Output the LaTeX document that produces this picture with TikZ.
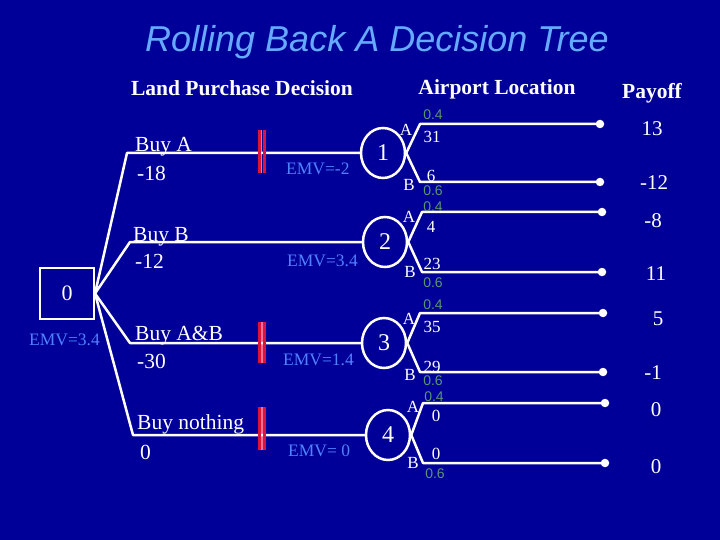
\documentclass[tikz,border=0pt]{standalone}
\usepackage{fontspec}
\usetikzlibrary{shapes.geometric}
\setmainfont{Liberation Serif}
\newfontfamily\arialf{Liberation Sans}
\definecolor{bg}{RGB}{0,0,153}
\definecolor{ttl}{RGB}{102,170,255}
\definecolor{emv}{RGB}{80,130,255}
\definecolor{prob}{RGB}{90,150,110}
\definecolor{barred}{RGB}{220,20,60}
\definecolor{barpink}{RGB}{245,110,150}
\begin{document}
\begin{tikzpicture}[x=1pt,y=-1pt,
  wline/.style={draw=white, line width=2.5pt, line join=round},
  lbl/.style={text=white, font=\fontsize{21.5}{24}\selectfont, inner sep=0, anchor=base west},
  hdr/.style={text=white, font=\bfseries\fontsize{21.5}{24}\selectfont, inner sep=0},
  emvl/.style={text=emv, font=\fontsize{17.5}{20}\selectfont, inner sep=0, anchor=base west},
  prb/.style={text=prob, font=\arialf\fontsize{14}{16}\selectfont, inner sep=0},
  ab/.style={text=white, font=\fontsize{17}{19}\selectfont, inner sep=0},
  pay/.style={text=white, font=\fontsize{21}{24}\selectfont, inner sep=0},
  chance/.style={ellipse, draw=white, line width=2.5pt, minimum width=44pt, minimum height=50pt, inner sep=0, text=white, font=\fontsize{24}{26}\selectfont},
  decision/.style={rectangle, draw=white, line width=2pt, minimum width=54pt, minimum height=51pt, inner sep=0, text=white, font=\fontsize{22}{24}\selectfont},
  tdot/.style={circle, fill=white, minimum size=8.5pt, inner sep=0},
  rbar/.style={draw=barred, line width=3pt},
  pbar/.style={draw=barpink, line width=1.5pt}
]
\fill[bg] (0,0) rectangle (720,540);
\useasboundingbox (0,0) rectangle (720,540);

% title and headers
\node[text=ttl, font=\arialf\itshape\fontsize{36}{40}\selectfont, inner sep=0] (title) at (377,42) {Rolling Back A Decision Tree};
\node[hdr] (h1) at (242,88) {Land Purchase Decision};
\node[hdr] (h2) at (497,89) {Airport Location};
\node[hdr] (h3) at (652,93) {Payoff};

% pink gaps of the bars (under the lines)
\draw[pbar] (261.6,130) -- (261.6,173);
\draw[pbar] (261.8,322) -- (261.8,363);
\draw[pbar] (261.8,407) -- (261.8,450);

% decision node
\node[decision] (d0) at (67,293.5) {0};
\node[emvl] (emv0) at (29,345) {EMV=3.4};

% chance nodes
\node[chance] (c1) at (383,153) {1};
\node[chance] (c2) at (385,242) {2};
\node[chance] (c3) at (384,343) {3};
\node[chance] (c4) at (388,435) {4};

% decision branch corners
\coordinate (ka) at (127,153);
\coordinate (kb) at (130,242);
\coordinate (kab) at (130,343);
\coordinate (kn) at (133,435);

\draw[wline] (d0.east) -- (ka) -- (c1.west);
\draw[wline] (d0.east) -- (kb) -- (c2.west);
\draw[wline] (d0.east) -- (kab) -- (c3.west);
\draw[wline] (d0.east) -- (kn) -- (c4.west);

% red bars
\draw[rbar] (259,130) -- (259,173);
\draw[rbar] (264.2,130) -- (264.2,173);
\draw[rbar] (259.2,322) -- (259.2,363);
\draw[rbar] (264.4,322) -- (264.4,363);
\draw[rbar] (259.2,407) -- (259.2,450);
\draw[rbar] (264.4,407) -- (264.4,450);

% decision branch labels
\node[lbl] (la) at (135,152) {Buy A};
\node[lbl] (va) at (137,181) {-18};
\node[lbl] (lb) at (133,241) {Buy B};
\node[lbl] (vb) at (135,268) {-12};
\node[lbl] (lab) at (135,340) {Buy A\&B};
\node[lbl] (vab) at (137,368) {-30};
\node[lbl] (ln) at (137,429) {Buy nothing};
\node[lbl] (vn) at (140,459) {0};

\node[emvl] (e1) at (286,175) {EMV=-2};
\node[emvl] (e2) at (287,266) {EMV=3.4};
\node[emvl] (e3) at (283,365) {EMV=1.4};
\node[emvl] (e4) at (288,456) {EMV= 0};

% chance branches: corners and terminal dots
\coordinate (u1) at (420,124); \node[tdot] (t1) at (600,124) {};
\coordinate (w1) at (420,182); \node[tdot] (t2) at (600,182) {};
\coordinate (u2) at (422,212); \node[tdot] (t3) at (602,212) {};
\coordinate (w2) at (422,272); \node[tdot] (t4) at (602,272) {};
\coordinate (u3) at (420,313); \node[tdot] (t5) at (603,313) {};
\coordinate (w3) at (420,372); \node[tdot] (t6) at (603,372) {};
\coordinate (u4) at (423,403); \node[tdot] (t7) at (605,403) {};
\coordinate (w4) at (423,463); \node[tdot] (t8) at (605,463) {};

\draw[wline] (c1.east) -- (u1) -- (t1.center);
\draw[wline] (c1.east) -- (w1) -- (t2.center);
\draw[wline] (c2.east) -- (u2) -- (t3.center);
\draw[wline] (c2.east) -- (w2) -- (t4.center);
\draw[wline] (c3.east) -- (u3) -- (t5.center);
\draw[wline] (c3.east) -- (w3) -- (t6.center);
\draw[wline] (c4.east) -- (u4) -- (t7.center);
\draw[wline] (c4.east) -- (w4) -- (t8.center);

% chance labels node 1
\node[prb] (p1a) at (433,115) {0.4};
\node[ab] (a1) at (406,130) {A};
\node[ab] (v1a) at (432,137) {31};
\node[ab] (v1b) at (431,176) {6};
\node[ab] (b1) at (409,185) {B};
\node[prb] (p1b) at (433,191) {0.6};
% node 2
\node[prb] (p2a) at (433,207) {0.4};
\node[ab] (a2) at (409,217) {A};
\node[ab] (v2a) at (431,227) {4};
\node[ab] (v2b) at (432,264) {23};
\node[ab] (b2) at (410,272) {B};
\node[prb] (p2b) at (433,283) {0.6};
% node 3
\node[prb] (p3a) at (433,305) {0.4};
\node[ab] (a3) at (409,319) {A};
\node[ab] (v3a) at (432,327) {35};
\node[ab] (v3b) at (432,367) {29};
\node[ab] (b3) at (410,375) {B};
\node[prb] (p3b) at (433,381) {0.6};
% node 4
\node[prb] (p4a) at (434,397) {0.4};
\node[ab] (a4) at (413,407) {A};
\node[ab] (v4a) at (436,416) {0};
\node[ab] (v4b) at (436,454) {0};
\node[ab] (b4) at (413,463) {B};
\node[prb] (p4b) at (435,474) {0.6};

% payoffs
\node[pay] (y1) at (652,129) {13};
\node[pay] (y2) at (654,183) {-12};
\node[pay] (y3) at (653,221) {-8};
\node[pay] (y4) at (656,274) {11};
\node[pay] (y5) at (658,319) {5};
\node[pay] (y6) at (653,373) {-1};
\node[pay] (y7) at (656,410) {0};
\node[pay] (y8) at (656,467) {0};
\end{tikzpicture}
\end{document}
